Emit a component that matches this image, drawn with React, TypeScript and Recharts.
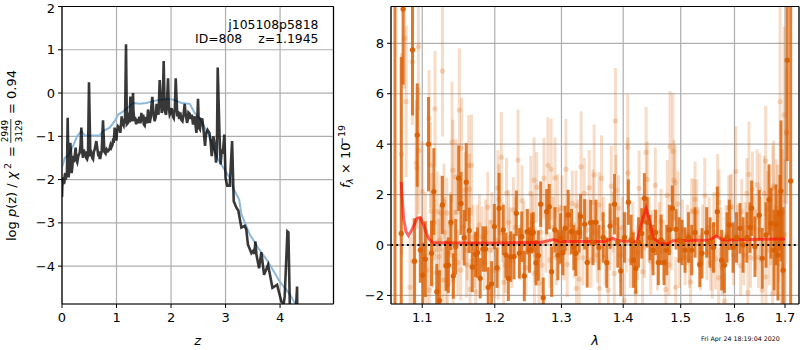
import React from 'react';
import { ComposedChart, Line, Scatter, ErrorBar, XAxis, YAxis, ZAxis, CartesianGrid, ReferenceLine } from 'recharts';

const FONT = '"DejaVu Sans", sans-serif';

// Left panel: redshift probability
const pzDarkZ = [0,0.006,0.02,0.035,0.05,0.07,0.08,0.104,0.122,0.153,0.177,0.214,0.25,0.28,0.325,0.355,0.373,0.416,0.46,0.477,0.495,0.52,0.57,0.6,0.63,0.667,0.703,0.728,0.752,0.777,0.844,0.905,0.948,0.966,0.997,1.028,1.07,1.095,1.13,1.156,1.174,1.21,1.254,1.278,1.303,1.327,1.394,1.456,1.517,1.578,1.609,1.657,1.7,1.75,1.792,1.829,1.865,1.896,1.945,1.988,2.037,2.086,2.116,2.19,2.25,2.294,2.343,2.404,2.434,2.465,2.495,2.53,2.575,2.624,2.704,2.746,2.776,2.826,2.856,2.91,2.977,3.0,3.03,3.077,3.12,3.15,3.2,3.235,3.29,3.35,3.38,3.41,3.474,3.505,3.53,3.547,3.566,3.615,3.657,3.706,3.78,3.86,3.945,4.024,4.067,4.085,4.135,4.153,4.183,4.27,4.312,4.318];
const pzDarkLog = [-2.4,-2.15,-2.0,-2.1,-1.9,-2.0,-1.85,-0.57,-1.95,-1.15,-1.85,-1.6,-1.26,-1.6,-1.38,-0.8,-1.38,-1.46,-1.53,-1.45,0.25,-1.46,-1.53,-1.3,-1.11,-1.46,-1.5,-1.35,-0.63,-1.36,-1.34,-1.26,-1.15,-0.8,-1.1,-0.77,-0.92,-0.54,-0.75,-0.7,1.13,-0.69,-0.08,-0.65,0,-0.65,-0.7,-0.46,-0.75,-0.38,-0.69,-0.09,-0.65,-0.35,0.3,-0.46,0.74,-0.46,0.34,-0.46,-0.55,0.34,-0.54,-0.62,-0.25,-0.69,-0.48,-0.73,-0.54,-0.92,-0.13,-0.84,-0.61,-1.22,-0.92,-1.46,-1.0,-1.61,0.59,-1.65,-0.96,-1.96,-2.14,-2.14,-1.11,-2.5,-2.65,-2.72,-3.11,-3.07,-3.15,-3.5,-3.7,-3.65,-3.72,-3.43,-3.73,-4.05,-3.68,-4.2,-3.97,-4.5,-4.43,-4.82,-4.87,-4.7,-3.2,-3.22,-5.2,-5.5,-4.47,-5.5];
const pzFineZ = [0.015,0.03,0.045,0.06,0.09,0.14,0.165,0.19,0.2,0.23,0.265,0.3,0.34,0.385,0.4,0.43,0.445,0.54,0.555,0.585,0.68,0.69,0.715,0.8,0.82,0.87,0.89,0.925,0.94,0.98,1.01,1.05,1.11,1.145,1.19,1.23,1.24,1.29,1.31,1.34,1.36,1.38,1.42,1.44,1.47,1.49,1.5,1.54,1.56,1.595,1.63,1.64,1.68,1.72,1.735,1.77,1.81,1.845,1.88,1.91,1.93,1.96,1.975,2.01,2.05,2.07,2.1,2.13,2.15,2.17,2.21,2.23,2.27,2.31,2.32,2.36,2.38,2.42,2.45,2.48,2.51,2.55,2.6,2.64,2.67,2.725,2.76,2.8,2.84,2.89,2.93,2.95];
const pzFineLog = [-2.05,-1.95,-2.05,-1.85,-1.95,-1.6,-1.4,-1.7,-1.45,-1.5,-1.55,-1.45,-1.2,-1.5,-1.3,-1.35,-1.5,-1.4,-1.5,-1.35,-1.35,-1.5,-1.42,-1.4,-1.3,-1.3,-1.2,-1.2,-1.05,-0.95,-0.9,-0.8,-0.7,-0.6,-0.72,-0.45,-0.68,-0.6,-0.4,-0.55,-0.72,-0.6,-0.55,-0.7,-0.65,-0.5,-0.72,-0.55,-0.7,-0.5,-0.55,-0.3,-0.5,-0.55,-0.25,-0.5,-0.1,-0.4,-0.2,-0.5,-0.1,-0.35,-0.5,-0.35,-0.58,-0.35,-0.1,-0.42,-0.6,-0.45,-0.65,-0.5,-0.5,-0.6,-0.45,-0.6,-0.5,-0.6,-0.75,-0.7,-0.8,-0.6,-0.9,-0.95,-0.85,-1.1,-1.3,-1.2,-1.45,-1.0,-1.3,-1.4];
const pzBlueZ = [0,0.05,0.11,0.2,0.276,0.355,0.416,0.508,0.692,0.752,0.875,0.966,1.028,1.15,1.303,1.425,1.547,1.728,1.912,2.03,2.19,2.343,2.434,2.53,2.62,2.7,2.85,2.98,3.08,3.12,3.25,3.29,3.445,3.6,3.78,3.99,4.18,4.29];
const pzBlueLog = [-1.72,-1.5,-1.45,-1.23,-1.0,-0.88,-0.98,-0.98,-0.98,-0.88,-0.8,-0.65,-0.5,-0.4,-0.23,-0.25,-0.23,-0.17,-0.14,-0.15,-0.23,-0.25,-0.46,-0.6,-0.8,-1.0,-1.5,-1.77,-1.96,-2.15,-2.46,-2.8,-3.27,-3.58,-3.9,-4.35,-4.65,-4.9];

// Right panel: beam A (pale points), the ones read clear of the dark band
const paleLambda = [1.073,1.077,1.079,1.084,1.087,1.088,1.092,1.093,1.095,1.0955,1.1,1.109,1.1095,1.111,1.112,1.117,1.12,1.122,1.125,1.127,1.1275,1.129,1.132,1.133,1.134,1.14,1.141,1.1415,1.145,1.148,1.15,1.153,1.158,1.16,1.163,1.164,1.165,1.167,1.173,1.175,1.182,1.19,1.2045,1.205,1.206,1.2095,1.213,1.217,1.22,1.227,1.234,1.24,1.253,1.258,1.2585,1.262,1.2655,1.273,1.279,1.284,1.29,1.294,1.301,1.307,1.309,1.317,1.323,1.3235,1.328,1.331,1.336,1.344,1.35,1.352,1.36,1.3605,1.364,1.375,1.38,1.385,1.387,1.388,1.392,1.402,1.4075,1.408,1.421,1.427,1.433,1.439,1.441,1.447,1.455,1.465,1.4735,1.476,1.479,1.481,1.486,1.488,1.49,1.491,1.495,1.518,1.52,1.524,1.526,1.529,1.544,1.558,1.561,1.564,1.568,1.57,1.5705,1.581,1.589,1.592,1.595,1.6025,1.612,1.614,1.624,1.626,1.628,1.635,1.638,1.644,1.649,1.654,1.658,1.661,1.6615,1.665,1.675,1.6755,1.677,1.682,1.685,1.69,1.698,1.703,1.7035];
const paleFlux = [3.6,8.2,5.69,-1.68,7.26,-0.64,3.25,3.05,7.87,3.74,2.12,5.03,-1.79,3.17,1.35,5.4,1.32,-0.46,1.26,6.9,-1.39,1.72,-1.39,1.27,-1.59,4.08,2.97,-1.42,2.7,-0.69,5.35,3.84,2.18,-0.79,3.15,2.22,-1.76,3.17,-1.85,0.4,0.33,1.5,2.26,-0.97,1.8,3.48,-1.48,2.06,0.9,1.39,3.37,1.76,2.04,2.57,-1.13,2.29,-1.52,2.65,3.16,3.0,2.66,1.4,1.46,3.0,-0.77,1.65,1.56,-1.72,-1.35,3.1,2.05,2.27,1.69,2.78,1.59,-1.72,2.65,-1.79,2.33,-1.13,4.92,2.17,1.46,-2.21,3.88,2.86,-1.88,2.25,-1.06,3.68,2.6,-0.66,2.37,0.93,-1.76,1.97,-0.79,3.9,3.72,2.57,2.46,-1.68,1.63,-1.46,1.35,1.32,1.81,1.3,1.96,-0.93,0.8,-0.56,2.01,-1.3,1.69,-2.23,1.46,1.5,1.52,2.92,-0.82,1.32,2.05,-1.88,2.8,2.21,0.66,2.39,2.22,-1.79,2.05,3.33,-1.26,1.43,-1.92,2.25,2.34,1.5,1.19,5.69,5.16,4.5,4.43];
const paleErr = [4,2,3,2,2.5,1.7,2.5,2.4,2.5,2.5,2,1.9,1.6,1.7,1.5,2.3,1.6,1.5,1.5,2.6,1.3,1.5,1.3,1.4,1.3,2.4,2,1.3,1.5,1.3,2.45,2,1.5,1.3,2,1.4,1.2,2,1.1,1.2,1.2,1.4,1.5,1.2,1.4,1.8,1.2,1.4,1.3,1.3,2,1.4,1.5,1.7,1.2,1.4,1.2,1.6,1.9,2,1.6,1.4,1.3,2,1.3,1.3,1.4,1.2,1.2,2.2,1.4,1.5,1.3,2,1.3,1.2,1.7,1.2,1.6,1.2,2.1,1.4,1.3,1.1,2.1,1.4,1.2,1.5,1.3,1.8,1.5,1.3,1.5,1.3,1.2,1.4,1.2,2.2,2.3,1.6,1.5,1.2,1.3,1.2,1.3,1.3,1.5,1.3,1.5,1.2,1.3,1.2,1.6,1.2,1.3,1.1,1.3,1.3,1.3,1.8,1.2,1.3,1.4,1.2,2.1,1.5,1.3,1.4,1.4,1.3,1.5,2.2,1.4,1.5,1.4,1.7,1.8,1.9,2,5,3.5,2.5,2.8];
// Pale points inside the dark band, rougher estimates
const paleBandLambda = [1.104,1.106,1.114,1.116,1.119,1.124,1.13,1.136,1.138,1.143,1.147,1.152,1.155,1.161,1.169,1.171,1.178,1.185,1.187,1.193,1.196,1.199,1.202,1.211,1.215,1.222,1.225,1.23,1.237,1.243,1.246,1.25,1.255,1.26,1.268,1.27,1.276,1.282,1.287,1.292,1.297,1.304,1.312,1.32,1.326,1.334,1.34,1.347,1.354,1.357,1.367,1.37,1.378,1.383,1.395,1.398,1.405,1.412,1.416,1.424,1.43,1.436,1.444,1.45,1.459,1.462,1.469,1.483,1.498,1.503,1.508,1.512,1.516,1.532,1.536,1.54,1.548,1.552,1.555,1.574,1.577,1.584,1.598,1.606,1.618,1.621,1.631,1.641,1.647,1.651,1.668,1.671,1.68,1.687,1.693,1.695,1.7];
const paleBandFlux = [0.6,-1.0,-0.2,0.9,-1.1,0.2,0.5,-0.3,0.8,0.1,1.3,-1.0,0.7,-0.2,0.3,-0.6,0.8,-0.7,0.5,-0.2,0.9,-1,0.2,0.5,-0.8,0.3,-0.6,0.7,-0.3,0.5,-0.9,0.2,0.9,-0.4,0.5,-0.8,0.1,-0.6,0.7,-0.5,0.4,-0.3,0.8,-0.2,0.6,-0.5,0.6,-0.6,0.5,-0.4,0.7,-0.5,0.2,0.9,-0.4,0.7,0.1,-0.6,0.5,-0.3,0.7,-0.1,0.6,0.2,-0.7,0.5,-0.2,0.2,-0.6,0.6,-0.5,0.4,-0.6,0.3,-0.7,0.4,-0.3,0.7,-0.7,0.3,-0.9,0.4,-0.4,0.4,-0.4,0.5,-0.5,0.2,-0.5,0.6,-0.2,0.7,-0.4,0.3,-0.8,1.3,0.4];
const paleBandErr = [1.5,1.4,1.5,1.5,1.3,1.4,1.4,1.3,1.3,1.3,1.3,1.2,1.3,1.2,1.3,1.1,1.2,1.1,1.3,1.2,1.2,1.1,1.2,1.2,1.1,1.2,1.1,1.2,1.1,1.2,1.1,1.2,1.1,1.1,1.2,1.1,1.2,1.1,1.2,1.1,1.2,1.1,1.2,1.1,1.2,1.1,1.2,1.1,1.2,1.1,1.2,1.1,1.2,1.2,1.1,1.2,1.2,1.1,1.2,1.1,1.2,1.2,1.3,1.2,1.1,1.2,1.2,1.2,1.1,1.2,1.1,1.2,1.1,1.2,1.1,1.2,1.1,1.2,1.1,1.2,1.1,1.2,1.2,1.2,1.2,1.2,1.2,1.2,1.2,1.3,1.4,1.5,1.6,1.8,2,2.5,3];

// Right panel: beam B (dark points)
const darkLambda = [1.0726,1.075,1.0872,1.0899,1.0934,1.0974,1.1007,1.104,1.1083,1.1123,1.1154,1.1194,1.1229,1.1269,1.1318,1.135,1.1386,1.1418,1.145,1.1491,1.1523,1.1568,1.1596,1.1638,1.168,1.1727,1.1755,1.1792,1.183,1.1868,1.1906,1.1955,1.1994,1.2033,1.2062,1.2124,1.2163,1.2197,1.2232,1.2281,1.2315,1.2359,1.2395,1.2433,1.2478,1.2511,1.2544,1.2568,1.2609,1.2644,1.268,1.2719,1.2771,1.2811,1.2848,1.2898,1.2944,1.2986,1.3022,1.3058,1.3105,1.3158,1.3194,1.3226,1.3279,1.3302,1.3366,1.3408,1.3463,1.3501,1.355,1.3599,1.3666,1.3726,1.3781,1.3855,1.3909,1.396,1.4021,1.4087,1.4133,1.4172,1.4212,1.426,1.4315,1.436,1.4407,1.4459,1.4511,1.4554,1.4603,1.4651,1.4704,1.4751,1.4797,1.485,1.4917,1.4971,1.5025,1.5078,1.5142,1.52,1.526,1.5347,1.5388,1.5475,1.5537,1.5602,1.5674,1.5756,1.5806,1.5857,1.5901,1.5972,1.6039,1.6107,1.6165,1.6242,1.63,1.6333,1.6398,1.6482,1.6542,1.6617,1.6677,1.6717,1.6777,1.6817,1.6857,1.6898,1.6918,1.6959,1.7046,1.7116];
const darkFlux = [0.46,9.36,7.74,-0.64,4.36,-0.2,-1.2,-0.56,4.0,-0.33,2.12,-1.85,-2.2,1.59,-0.82,-0.8,0.9,-1.23,-0.07,2.65,1.65,0.29,2.49,0.58,-0.87,-0.37,-0.3,-1.32,-0.16,-0.16,-1.68,-1.54,0.73,-0.9,1.46,0.6,-0.4,-1.32,-0.46,-0.46,1.26,-0.33,0.33,-1.23,0.53,-0.2,0.46,0.5,-0.7,-0.42,1.62,-2.09,1.32,1.52,-1.06,0.6,-0.4,0.26,-0.3,0.66,1.19,0.53,-0.1,-0.33,0.5,1.13,0.82,-0.69,0.89,0.1,0.9,-0.1,0.3,-0.7,0.75,1.62,0.1,-1.03,0.3,1.7,0.2,-0.6,-0.93,0.1,0.46,1.85,0.9,0.3,-0.2,0.5,-0.69,0.2,-0.69,-0.2,0.6,1.46,0.62,0.2,0.1,-0.2,0.3,-0.2,0.5,-0.77,-0.33,0.5,0.1,-0.1,1.32,-0.6,-0.8,0.3,0.8,-0.1,0.3,0.66,0,0.3,0.69,1.46,-0.07,1.18,-0.53,0.4,1.8,0.86,-0.2,0.8,-0.4,1.28,2.14,-1,7.33,2.54];
const darkErr = [7,3,2.6,1.7,2.05,1.3,1.3,1.5,1.87,1.3,1.72,1.1,1.2,1.15,1,1.1,1.1,0.9,1.1,1.3,1.25,1.1,1.55,0.9,1,0.9,1,0.8,0.9,0.9,0.8,0.9,0.9,0.8,1.4,1,0.9,0.9,1,0.9,0.9,1,1,1,0.9,0.9,0.8,0.8,0.9,1,0.9,0.8,0.9,0.9,1,0.9,1,1,0.9,0.9,1,0.9,0.9,0.9,0.8,0.9,1,1,0.9,0.9,0.9,0.9,1,1,0.9,1.2,1,1,1,0.9,1,1.1,1,1,1,1,1,0.9,1,0.9,0.9,1,0.9,1,1,0.9,0.8,0.9,0.9,0.9,1,1,1,0.9,1,1,1,1,1,1.2,1.1,1,1,1,1,1,1.1,1,1,1.1,1.2,1,1.2,1.3,1.4,1.4,1.6,1.6,1.8,1.5,2.8,2.5,4,12];
// The first dark bar runs the whole height; its dot is not in the picture
const edgeLambda = [1.0646];
const edgeFlux = [3.5];
const edgeErr = [7];

// Right panel: model
const modelLambda = [1.0726,1.0756,1.0787,1.082,1.0873,1.093,1.0974,1.1017,1.1083,1.1137,1.15,1.2,1.25,1.267,1.2877,1.295,1.3,1.37,1.3826,1.39,1.4232,1.4277,1.4333,1.439,1.443,1.4515,1.4632,1.475,1.4863,1.5537,1.5649,1.578,1.7];
const modelFlux = [2.5,1.06,0.53,0.37,0.66,1.06,1.09,0.8,0.26,0.1,0.08,0.08,0.1,0.1,0.22,0.16,0.14,0.14,0.26,0.18,0.13,0.53,1.06,1.46,1.13,0.26,0.1,0.03,0.17,0.2,0.36,0.2,0.24];

const zTicks = [0, 1, 2, 3, 4];
const logTicks = [-4, -3, -2, -1, 0, 1, 2];
const lambdaTicks = [1.1, 1.2, 1.3, 1.4, 1.5, 1.6, 1.7];
const fluxTicks = [-2, 0, 2, 4, 6, 8];

const zRange: [number, number] = [0, 4.98];
const logRange: [number, number] = [-4.875, 2];
const lambdaRange: [number, number] = [1.0595, 1.7288];
const fluxRange: [number, number] = [-2.34, 9.46];

const byZ = (a: { z: number }, b: { z: number }) => a.z - b.z;
const pzDark = [
  ...pzDarkZ.map((z, i) => ({ z, p: pzDarkLog[i] })),
  ...pzFineZ.map((z, i) => ({ z, p: pzFineLog[i] })),
].sort(byZ);
const pzBlue = pzBlueZ.map((z, i) => ({ z, p: pzBlueLog[i] }));

// Error bars are limited to the axis range, so they stop at the frame.
const toRow = (w: number, f: number, e: number) => ({
  w,
  f,
  err: [Math.max(0, Math.min(e, f - fluxRange[0])), Math.max(0, Math.min(e, fluxRange[1] - f))],
});
const pale = [
  ...paleLambda.map((w, i) => toRow(w, paleFlux[i], paleErr[i])),
  ...paleBandLambda.map((w, i) => toRow(w, paleBandFlux[i], paleBandErr[i])),
];
const dark = darkLambda.map((w, i) => toRow(w, darkFlux[i], darkErr[i]));
const edge = edgeLambda.map((w, i) => toRow(w, edgeFlux[i], edgeErr[i]));
const model = modelLambda.map((w, i) => ({ w, f: modelFlux[i] }));

const GRID = '#aeaeae';
const tickStyle = { fontFamily: FONT, fontSize: 13, fill: '#000' };
const minus = (v: number) => String(v).replace('-', '\u2212');
const labelStyle = { fontFamily: FONT, fontSize: 13, fontStyle: 'italic', fill: '#000' };

export default function App() {
  return (
    <div style={{ position: 'absolute', left: 0, top: 0, width: 800, height: 350, background: '#fff' }}>
      <div style={{ position: 'absolute', left: 0, top: 0 }}>
        <ComposedChart width={340} height={350} margin={{ top: 6.5, right: 6.5, bottom: 0, left: 0 }} data={pzDark}>
          <CartesianGrid stroke={GRID} strokeWidth={1.2} />
          <XAxis dataKey="z" type="number" domain={zRange} ticks={zTicks} allowDataOverflow height={46}
            tick={tickStyle} tickLine={{ stroke: '#000' }} tickSize={4} tickMargin={5} axisLine={{ stroke: '#000', strokeWidth: 1.2 }}
            label={{ value: 'z', position: 'insideBottom', offset: 5, style: labelStyle }} />
          <YAxis type="number" domain={logRange} ticks={logTicks} allowDataOverflow width={62}
            tick={tickStyle} tickLine={{ stroke: '#000' }} tickSize={4} tickMargin={3} tickFormatter={minus} axisLine={{ stroke: '#000', strokeWidth: 1.2 }} />
          <Line data={pzBlue} dataKey="p" stroke="#8db8da" strokeWidth={2} dot={false} isAnimationActive={false} />
          <Line data={pzDark} dataKey="p" stroke="#000" strokeOpacity={0.78} strokeWidth={2.6} dot={false} isAnimationActive={false} />
          <ReferenceLine y={logRange[1]} stroke="#000" strokeWidth={1.2} />
          <ReferenceLine x={zRange[1]} stroke="#000" strokeWidth={1.2} />
        </ComposedChart>
      </div>
      <div style={{ position: 'absolute', left: 335, top: 0 }}>
        <ComposedChart width={465} height={350} margin={{ top: 6.5, right: 1, bottom: 0, left: 0 }} data={dark}>
          <CartesianGrid stroke={GRID} strokeWidth={1.2} />
          <XAxis dataKey="w" type="number" scale="log" domain={lambdaRange} ticks={lambdaTicks} allowDataOverflow height={46}
            tick={tickStyle} tickLine={{ stroke: '#000' }} tickSize={4} tickMargin={5} tickFormatter={(v: number) => v.toFixed(1)} axisLine={{ stroke: '#000', strokeWidth: 1.2 }}
            label={{ value: '\u03bb', position: 'insideBottom', offset: 5, style: labelStyle }} />
          <YAxis type="number" domain={fluxRange} ticks={fluxTicks} allowDataOverflow width={56}
            tick={tickStyle} tickLine={{ stroke: '#000' }} tickSize={4} tickMargin={3} tickFormatter={minus} axisLine={{ stroke: '#000', strokeWidth: 1.2 }} />
          <ZAxis range={[22, 22]} />
          <Scatter data={pale} dataKey="f" fill="#d95f02" fillOpacity={0.22} isAnimationActive={false}>
            <ErrorBar dataKey="err" direction="y" width={0} stroke="#d95f02" strokeOpacity={0.22} strokeWidth={3} isAnimationActive={false} />
          </Scatter>
          <Scatter data={edge} dataKey="f" fill="#d95f02" fillOpacity={0} isAnimationActive={false}>
            <ErrorBar dataKey="err" direction="y" width={0} stroke="#d95f02" strokeOpacity={0.8} strokeWidth={3} isAnimationActive={false} />
          </Scatter>
          <Scatter data={dark} dataKey="f" fill="#d95f02" fillOpacity={0.95} isAnimationActive={false}>
            <ErrorBar dataKey="err" direction="y" width={0} stroke="#d95f02" strokeOpacity={0.8} strokeWidth={3} isAnimationActive={false} />
          </Scatter>
          <Line data={model} dataKey="f" stroke="#ff0000" strokeOpacity={0.6} strokeWidth={3} dot={false} isAnimationActive={false} />
          <ReferenceLine y={0} stroke="#000" strokeWidth={2} strokeDasharray="2 3.3" />
          <ReferenceLine y={fluxRange[1]} stroke="#000" strokeWidth={1.2} />
          <ReferenceLine x={lambdaRange[1]} stroke="#000" strokeWidth={1.2} />
        </ComposedChart>
      </div>
      <svg width={800} height={350} style={{ position: 'absolute', left: 0, top: 0, pointerEvents: 'none' }} fontFamily={FONT} fontSize={13} fill="#000">
        <text x={318.5} y={28.7} textAnchor="end" fontSize={12.4}>j105108p5818</text>
        <text x={195} y={43} fontSize={12.4}>ID=808</text>
        <text x={318.5} y={43} textAnchor="end" fontSize={12.4}>z=1.1945</text>
        <g transform="translate(15.5,241) rotate(-90)">
          <text x={0} y={0}>log <tspan fontStyle="italic">p</tspan>(z) / <tspan fontStyle="italic">χ</tspan></text>
          <text x={72} y={-5} fontSize={9.5}>2</text>
          <text x={84} y={0}>=</text>
          <text x={110} y={-7.2} fontSize={8.8} textAnchor="middle">2949</text>
          <line x1={98} x2={122} y1={-4.7} y2={-4.7} stroke="#000" strokeWidth={0.8} />
          <text x={110} y={6.5} fontSize={8.8} textAnchor="middle">3129</text>
          <text x={127} y={0}>= 0.94</text>
        </g>
        <g transform="translate(350,188) rotate(-90)">
          <text x={0} y={0} fontStyle="italic">f</text>
          <text x={4} y={3} fontSize={9.5} fontStyle="italic">λ</text>
          <text x={14} y={0}>× 10</text>
          <text x={43} y={-5} fontSize={9.5}>−19</text>
        </g>
        <text x={701} y={341} fontSize={6.3}>Fri Apr 24 18:19:04 2020</text>
      </svg>
    </div>
  );
}
